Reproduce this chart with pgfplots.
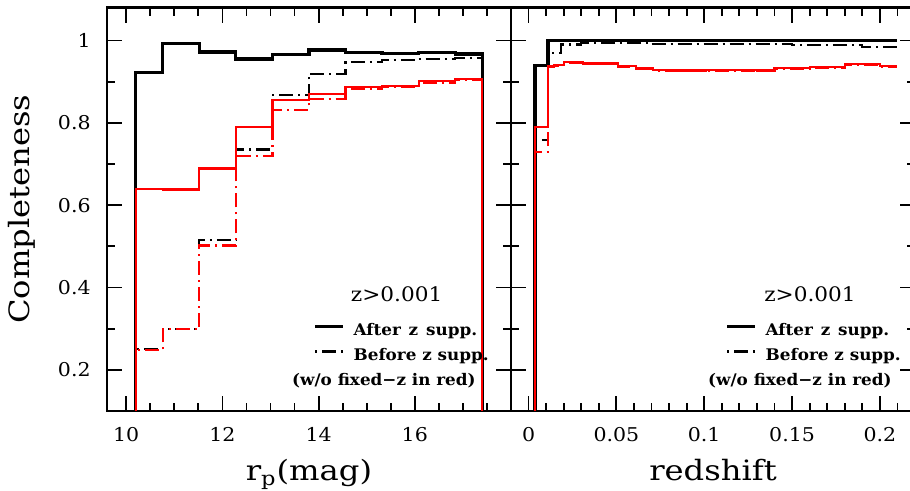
\documentclass[border=0pt]{standalone}
\usepackage{fontspec}
\setmainfont{DejaVu Serif}
\newfontfamily\tickfont[FakeStretch=1.08]{DejaVu Serif}
\newfontfamily\labfont[FakeStretch=1.15]{DejaVu Serif}
\newfontfamily\legfont[FakeStretch=1.05]{DejaVu Serif}
\usepackage{pgfplots}
\pgfplotsset{compat=1.18}

\pgfplotsset{
  panel/.style={
    scale only axis, width=202pt, height=201.75pt,
    ymin=0.1, ymax=1.08,
    scaled x ticks=false, scaled y ticks=false,
    axis line style={line width=1.3pt},
    tick style={line width=0.9pt, black},
    major tick length=7.5pt, minor tick length=4pt,
    tick align=inside,
    xtick pos=both, ytick pos=both,
    ytick={0.2,0.4,0.6,0.8,1},
    minor ytick={0.3,0.5,0.7,0.9},
    /pgf/number format/assume math mode=true,
    /pgf/number format/fixed,
    xticklabel style={font=\tickfont\fontsize{9.5}{11}\selectfont, anchor=base, inner sep=0pt, yshift=-15.3pt},
    yticklabel style={font=\tickfont\fontsize{9.5}{11}\selectfont, anchor=east, inner sep=0pt, xshift=-8pt},
    xlabel style={font=\labfont\fontsize{14}{16}\selectfont, at={(axis description cs:0.5,-0.1735)}, anchor=base},
    ylabel style={font=\labfont\fontsize{14}{16}\selectfont, at={(axis description cs:-0.2116,0.5)}, anchor=center},
    legend cell align=left,
    legend image code/.code={\draw[##1] (0pt,2.5pt) -- (14pt,2.5pt); \path (0pt,0pt) (18.5pt,0pt);},
    legend style={anchor=north west, draw=none, fill=none, inner sep=0pt, column sep=0pt,
      font=\legfont\bfseries\fontsize{8}{9}\selectfont,
      nodes={inner sep=0pt, text height=6pt, text depth=2pt}, row sep=4.5pt},
  },
  after/.style={const plot mark left, black, line width=1.6pt},
  before/.style={const plot mark left, black, line width=1.1pt, dash pattern=on 1pt off 2.5pt on 7pt off 2.5pt},
  aftr/.style={const plot mark left, red, line width=1.1pt},
  befr/.style={const plot mark left, red, line width=1.1pt, dash pattern=on 1pt off 2.5pt on 7pt off 2.5pt},
}

\begin{document}
\begin{tikzpicture}
\useasboundingbox (-53.5pt,-40pt) rectangle (401.5pt,205.5pt);

\begin{axis}[panel, at={(0pt,0pt)}, anchor=south west,
  xmin=9.6, xmax=18,
  xtick={10,12,14,16},
  minor xtick={10.5,11,11.5,12.5,13,13.5,14.5,15,15.5,16.5,17,17.5},
  xlabel={r\textsubscript{p}(mag)}, ylabel={Completeness},
  legend style={at={(rel axis cs:0.51,0.218)}},
]
\addplot[after] coordinates {(10.2,0) (10.2,0.923) (10.76,0.992) (11.52,0.972) (12.28,0.955) (13.04,0.965) (13.80,0.977) (14.56,0.970) (15.32,0.968) (16.08,0.971) (16.84,0.967) (17.4,0)};
\addplot[before] coordinates {(10.2,0) (10.2,0.25) (10.76,0.30) (11.52,0.515) (12.28,0.735) (13.04,0.868) (13.80,0.919) (14.56,0.947) (15.32,0.952) (16.08,0.955) (16.84,0.957) (17.4,0)};
\addplot[aftr, forget plot] coordinates {(10.2,0) (10.2,0.640) (10.76,0.638) (11.52,0.689) (12.28,0.789) (13.04,0.855) (13.80,0.870) (14.56,0.886) (15.32,0.890) (16.08,0.901) (16.84,0.907) (17.4,0)};
\addplot[befr, forget plot] coordinates {(10.2,0) (10.2,0.248) (10.76,0.299) (11.52,0.502) (12.28,0.719) (13.04,0.832) (13.80,0.858) (14.56,0.883) (15.32,0.888) (16.08,0.898) (16.84,0.905) (17.4,0)};
\legend{After\hspace{1pt} z\hspace{1pt} supp., Before z supp.}
\node[font=\tickfont\fontsize{10}{12}\selectfont, anchor=base] at (rel axis cs:0.717,0.2726) {z>0.001};
\node[font=\legfont\bfseries\fontsize{8}{9}\selectfont, anchor=base east, inner sep=0pt] at (rel axis cs:0.9134,0.0644) {(w/o fixed−z in red)};
\end{axis}

\begin{axis}[panel, at={(202pt,0pt)}, anchor=south west,
  xmin=-0.01, xmax=0.22,
  xtick={0,0.05,0.1,0.15,0.2},
  xticklabels={0,0.05,0.1,0.15,0.2},
  minor xtick={0.01,0.02,0.03,0.04,0.06,0.07,0.08,0.09,0.11,0.12,0.13,0.14,0.16,0.17,0.18,0.19,0.21},
  yticklabels={},
  xlabel={redshift},
  legend style={at={(rel axis cs:0.53,0.218)}},
]
\addplot[after] coordinates {(0.0037,0) (0.0037,0.939) (0.0111,1.0) (0.21,1.0)};
\addplot[before] coordinates {(0.0037,0) (0.0037,0.758) (0.0111,0.969) (0.0185,0.990) (0.03,0.994) (0.07,0.991) (0.15,0.989) (0.19,0.985) (0.21,0.985)};
\addplot[aftr, forget plot] coordinates {(0.0037,0) (0.0037,0.790) (0.0111,0.937) (0.0145,0.941) (0.020,0.948) (0.031,0.944) (0.051,0.938) (0.061,0.932) (0.071,0.929) (0.081,0.927) (0.101,0.929) (0.130,0.927) (0.140,0.933) (0.160,0.935) (0.180,0.943) (0.200,0.938) (0.21,0.938)};
\addplot[befr, forget plot] coordinates {(0.0037,0) (0.0037,0.730) (0.0111,0.935) (0.0145,0.939) (0.020,0.946) (0.031,0.942) (0.051,0.936) (0.061,0.930) (0.071,0.927) (0.081,0.925) (0.101,0.927) (0.130,0.925) (0.140,0.931) (0.160,0.933) (0.180,0.941) (0.200,0.936) (0.21,0.936)};
\legend{After\hspace{1pt} z\hspace{1pt} supp., Before z supp.}
\node[font=\tickfont\fontsize{10}{12}\selectfont, anchor=base] at (rel axis cs:0.740,0.2726) {z>0.001};
\node[font=\legfont\bfseries\fontsize{8}{9}\selectfont, anchor=base east, inner sep=0pt] at (rel axis cs:0.943,0.0644) {(w/o fixed−z in red)};
\end{axis}
\end{tikzpicture}
\end{document}
